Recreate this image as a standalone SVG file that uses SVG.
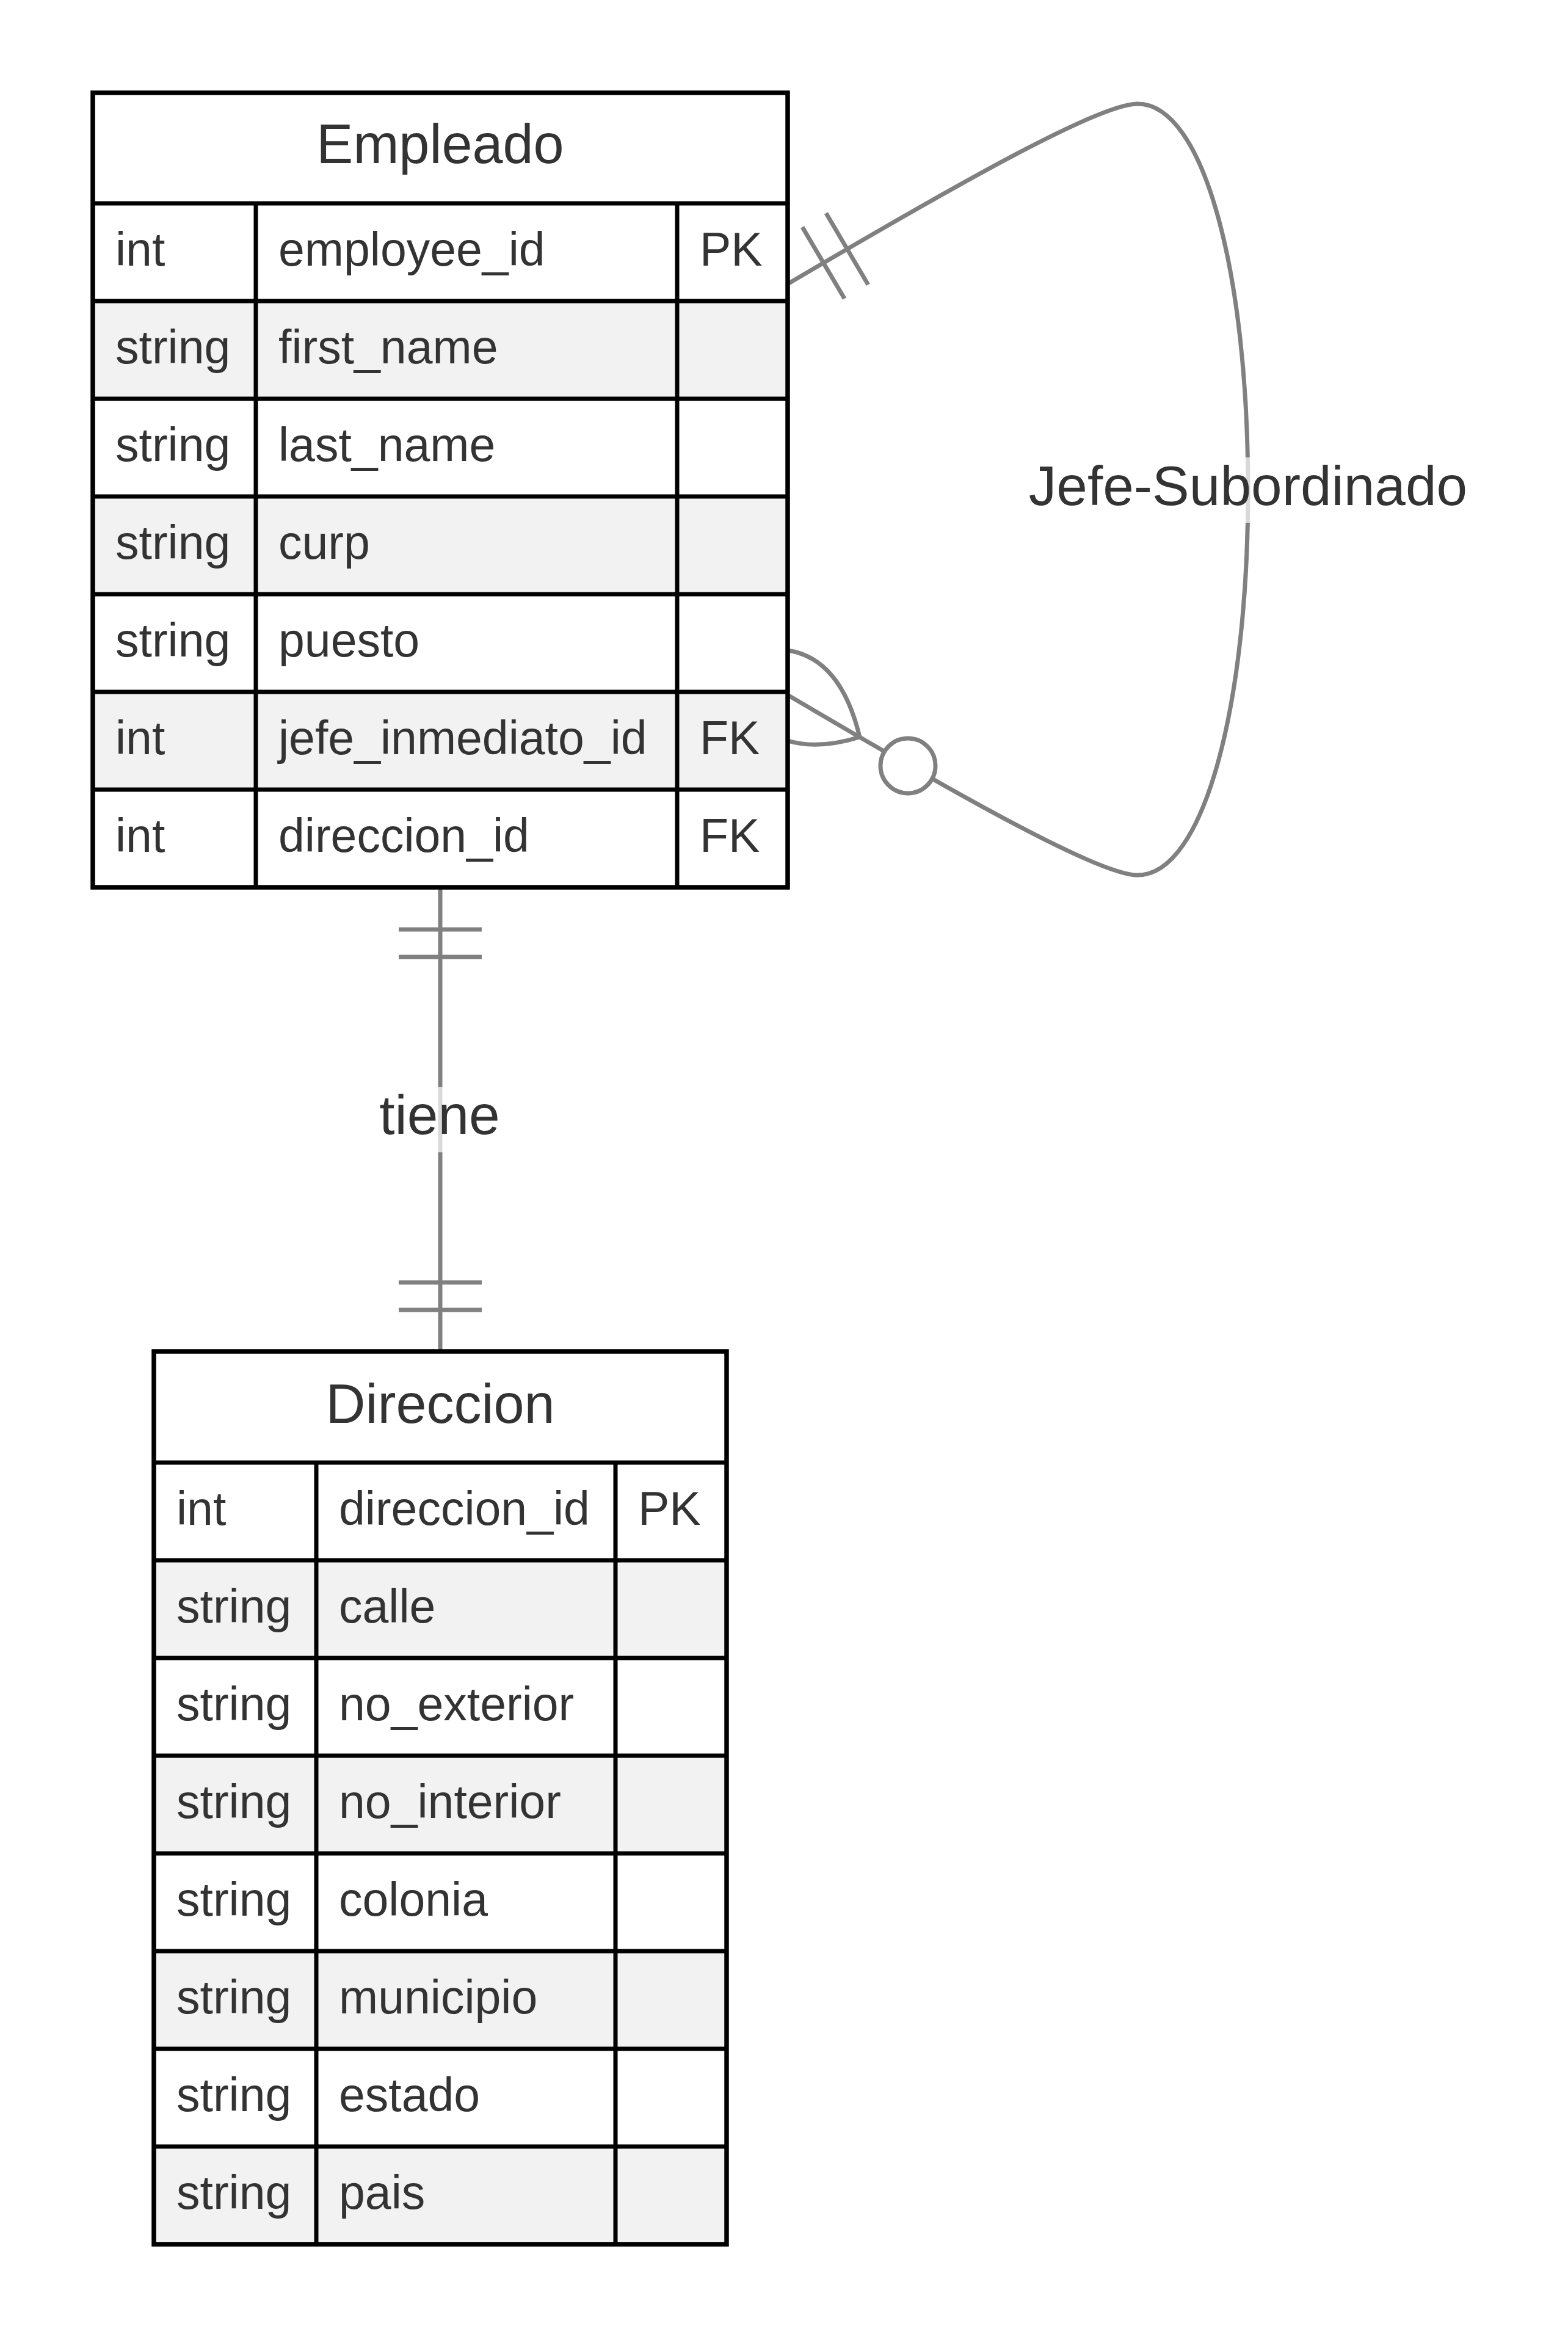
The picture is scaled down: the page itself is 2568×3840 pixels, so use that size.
<svg xmlns="http://www.w3.org/2000/svg" width="2568" height="3840" viewBox="0 0 2568 3840">
<style>
.bg{fill:#ffffff}
.alt{fill:#f2f2f2}
.wh{fill:#ffffff}
.border{fill:none;stroke:#000000;stroke-width:7.5}
.grid{stroke:#000000;stroke-width:7}
.hdr{font-family:"Liberation Sans",Arial,sans-serif;font-size:90px;fill:#333333;text-anchor:middle}
.cell{font-family:"Liberation Sans",Arial,sans-serif;font-size:77px;fill:#333333}
.edge{fill:none;stroke:#808080;stroke-width:7}
.lblbg{fill:#ffffff;fill-opacity:0.7}
.lbl{font-family:"Liberation Sans",Arial,sans-serif;font-size:91px;fill:#333333;text-anchor:middle}
</style>
<rect class="bg" x="0" y="0" width="2568" height="3840"/>

<g id="connectors">
  <!-- Empleado self relation -->
  <path class="edge" d="M1290,465 C1590,288 1803,170 1863,170 C1973,170 2044,452 2044,802 C2044,1151 1973,1433 1863,1433 C1803,1433 1590,1315 1290,1138"/>
  <g transform="translate(1290,465) rotate(-30.5)">
    <line class="edge" x1="68" y1="-68" x2="68" y2="68"/>
    <line class="edge" x1="113" y1="-68" x2="113" y2="68"/>
  </g>
  <path class="edge" d="M1290,1065 Q1377,1078 1408,1207"/>
  <path class="edge" d="M1290,1213 Q1340,1228 1408,1207"/>
  <circle class="edge" cx="1487" cy="1254" r="45" style="fill:#ffffff"/>
  <rect class="lblbg" x="1685" y="749" width="720" height="107"/>
  <text class="lbl" x="2044" y="827">Jefe-Subordinado</text>

  <!-- Empleado - Direccion -->
  <line class="edge" x1="721" y1="1453" x2="721" y2="2213"/>
  <line class="edge" x1="653" y1="1522" x2="789" y2="1522"/>
  <line class="edge" x1="653" y1="1567" x2="789" y2="1567"/>
  <line class="edge" x1="653" y1="2100" x2="789" y2="2100"/>
  <line class="edge" x1="653" y1="2145" x2="789" y2="2145"/>
  <rect class="lblbg" x="620" y="1780" width="200" height="107"/>
  <text class="lbl" x="720" y="1857">tiene</text>
</g>

<g id="Empleado">
  <rect class="wh" x="152" y="152" width="1138" height="181"/>
  <rect class="wh" x="152" y="333" width="1138" height="160"/>
  <rect class="alt" x="152" y="493" width="1138" height="160"/>
  <rect class="wh" x="152" y="653" width="1138" height="160"/>
  <rect class="alt" x="152" y="813" width="1138" height="160"/>
  <rect class="wh" x="152" y="973" width="1138" height="160"/>
  <rect class="alt" x="152" y="1133" width="1138" height="160"/>
  <rect class="wh" x="152" y="1293" width="1138" height="160"/>
  <line class="grid" x1="152" y1="333" x2="1290" y2="333"/>
  <line class="grid" x1="152" y1="493" x2="1290" y2="493"/>
  <line class="grid" x1="152" y1="653" x2="1290" y2="653"/>
  <line class="grid" x1="152" y1="813" x2="1290" y2="813"/>
  <line class="grid" x1="152" y1="973" x2="1290" y2="973"/>
  <line class="grid" x1="152" y1="1133" x2="1290" y2="1133"/>
  <line class="grid" x1="152" y1="1293" x2="1290" y2="1293"/>
  <line class="grid" x1="419" y1="333" x2="419" y2="1453"/>
  <line class="grid" x1="1109" y1="333" x2="1109" y2="1453"/>
  <rect class="border" x="152" y="152" width="1138" height="1301"/>
  <text class="hdr" x="721" y="267">Empleado</text>
  <text class="cell" x="189" y="435">int</text>
  <text class="cell" x="456" y="435">employee_id</text>
  <text class="cell" x="1146" y="435">PK</text>
  <text class="cell" x="189" y="595">string</text>
  <text class="cell" x="456" y="595">first_name</text>
  <text class="cell" x="189" y="755">string</text>
  <text class="cell" x="456" y="755">last_name</text>
  <text class="cell" x="189" y="915">string</text>
  <text class="cell" x="456" y="915">curp</text>
  <text class="cell" x="189" y="1075">string</text>
  <text class="cell" x="456" y="1075">puesto</text>
  <text class="cell" x="189" y="1235">int</text>
  <text class="cell" x="456" y="1235">jefe_inmediato_id</text>
  <text class="cell" x="1146" y="1235">FK</text>
  <text class="cell" x="189" y="1395">int</text>
  <text class="cell" x="456" y="1395">direccion_id</text>
  <text class="cell" x="1146" y="1395">FK</text>
</g>

<g id="Direccion">
  <rect class="wh" x="252" y="2213" width="938" height="182"/>
  <rect class="wh" x="252" y="2395" width="938" height="160"/>
  <rect class="alt" x="252" y="2555" width="938" height="160"/>
  <rect class="wh" x="252" y="2715" width="938" height="160"/>
  <rect class="alt" x="252" y="2875" width="938" height="160"/>
  <rect class="wh" x="252" y="3035" width="938" height="160"/>
  <rect class="alt" x="252" y="3195" width="938" height="160"/>
  <rect class="wh" x="252" y="3355" width="938" height="160"/>
  <rect class="alt" x="252" y="3515" width="938" height="160"/>
  <line class="grid" x1="252" y1="2395" x2="1190" y2="2395"/>
  <line class="grid" x1="252" y1="2555" x2="1190" y2="2555"/>
  <line class="grid" x1="252" y1="2715" x2="1190" y2="2715"/>
  <line class="grid" x1="252" y1="2875" x2="1190" y2="2875"/>
  <line class="grid" x1="252" y1="3035" x2="1190" y2="3035"/>
  <line class="grid" x1="252" y1="3195" x2="1190" y2="3195"/>
  <line class="grid" x1="252" y1="3355" x2="1190" y2="3355"/>
  <line class="grid" x1="252" y1="3515" x2="1190" y2="3515"/>
  <line class="grid" x1="518" y1="2395" x2="518" y2="3675"/>
  <line class="grid" x1="1008" y1="2395" x2="1008" y2="3675"/>
  <rect class="border" x="252" y="2213" width="938" height="1462"/>
  <text class="hdr" x="721" y="2330">Direccion</text>
  <text class="cell" x="289" y="2497">int</text>
  <text class="cell" x="555" y="2497">direccion_id</text>
  <text class="cell" x="1045" y="2497">PK</text>
  <text class="cell" x="289" y="2657">string</text>
  <text class="cell" x="555" y="2657">calle</text>
  <text class="cell" x="289" y="2817">string</text>
  <text class="cell" x="555" y="2817">no_exterior</text>
  <text class="cell" x="289" y="2977">string</text>
  <text class="cell" x="555" y="2977">no_interior</text>
  <text class="cell" x="289" y="3137">string</text>
  <text class="cell" x="555" y="3137">colonia</text>
  <text class="cell" x="289" y="3297">string</text>
  <text class="cell" x="555" y="3297">municipio</text>
  <text class="cell" x="289" y="3457">string</text>
  <text class="cell" x="555" y="3457">estado</text>
  <text class="cell" x="289" y="3617">string</text>
  <text class="cell" x="555" y="3617">pais</text>
</g>
</svg>
